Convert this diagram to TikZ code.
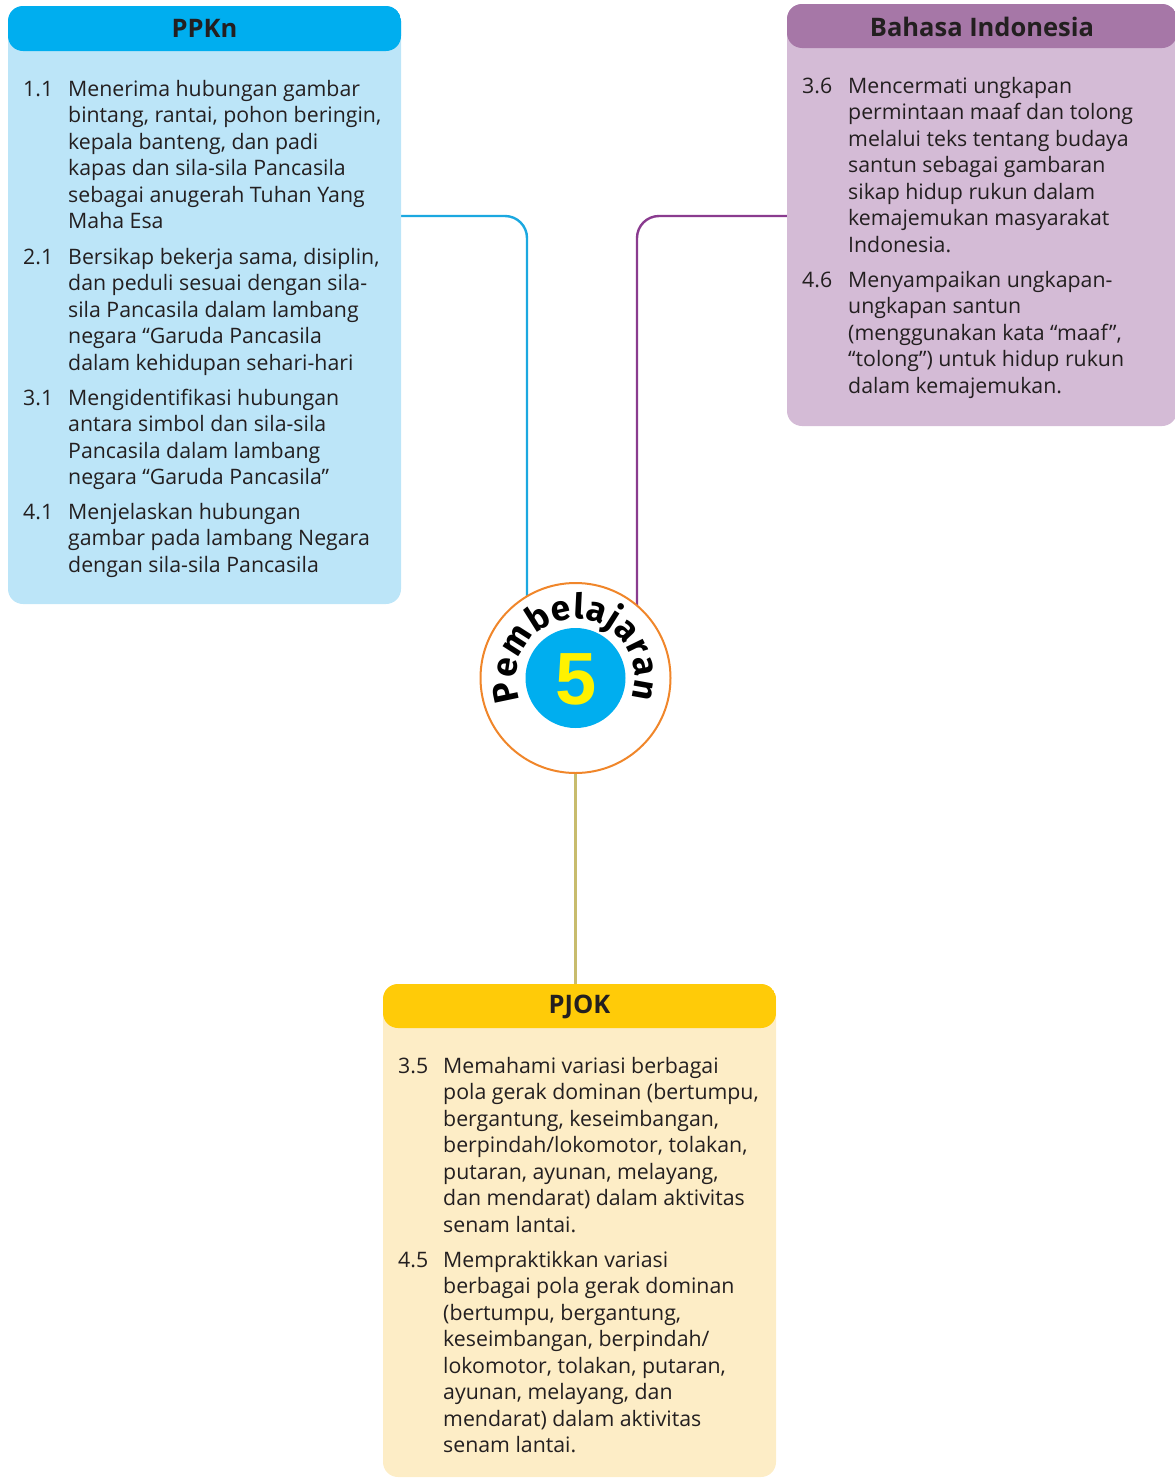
\documentclass[tikz,border=0pt]{standalone}
\usepackage{fontspec}
\setmainfont{Open Sans}
\newfontfamily\digitfont{Liberation Sans}
\newfontfamily\arcfont{Fira Sans}
\usetikzlibrary{decorations.text,backgrounds}
\definecolor{txt}{HTML}{231F20}
\definecolor{ppkhead}{HTML}{00AEEF}
\definecolor{ppkbody}{HTML}{BCE5F8}
\definecolor{bihead}{HTML}{A677A7}
\definecolor{bibody}{HTML}{D4BBD6}
\definecolor{pjhead}{HTML}{FFCB08}
\definecolor{pjbody}{HTML}{FDEDC6}
\definecolor{cyanline}{HTML}{1BA8E0}
\definecolor{purpline}{HTML}{8A3B8F}
\definecolor{khakiline}{HTML}{C8BC6D}
\definecolor{orng}{HTML}{F0862A}
\definecolor{yel}{HTML}{FFF200}
\begin{document}
\begin{tikzpicture}[x=1pt,y=-1pt,
  box/.style={rectangle, rounded corners=15pt, inner sep=0pt, draw=none},
  hdrtxt/.style={inner sep=0pt, text=txt, font=\fontsize{25.5}{30}\selectfont\bfseries},
  num/.style={anchor=north west, inner sep=0pt, text=txt, font=\fontsize{21.3}{26.5}\selectfont},
  itm/.style={anchor=north west, inner sep=0pt, align=left, text=txt, font=\fontsize{21.3}{26.5}\selectfont},
  conn/.style={line width=2.4pt, rounded corners=22pt}]
\useasboundingbox (0,0) rectangle (1175,1478);

% boxes
\node[box, fill=ppkbody, minimum width=393pt, minimum height=598pt,
  path picture={\fill[ppkhead] (path picture bounding box.north west) rectangle ([yshift=-45pt]path picture bounding box.north east);}]
  (ppkn) at (204.5,305) {};
\node[box, fill=bibody, minimum width=390pt, minimum height=422pt,
  path picture={\fill[bihead] (path picture bounding box.north west) rectangle ([yshift=-44pt]path picture bounding box.north east);}]
  (bi) at (982,215) {};
\node[box, fill=pjbody, minimum width=393pt, minimum height=493pt,
  path picture={\fill[pjhead] (path picture bounding box.north west) rectangle ([yshift=-44pt]path picture bounding box.north east);}]
  (pjok) at (579.5,1230.5) {};

% headers
\node[hdrtxt] (ppknh) at (204.5,28.5) {PPKn};
\node[hdrtxt] (bih) at (982,26.5) {Bahasa Indonesia};
\node[hdrtxt] (pjokh) at (579.5,1006.5) {PJOK};

% PPKn items
\node[num] (n11) at (23,77.45) {\strut 1.1};
\node[itm] (t11) at (68,77.45) {\strut Menerima hubungan gambar\\ bintang, rantai, pohon beringin,\\ kepala banteng, dan padi\\ kapas dan sila-sila Pancasila\\ sebagai anugerah Tuhan Yang\\ Maha Esa};
\node[num] (n21) at (23,245.45) {\strut 2.1};
\node[itm] (t21) at (68,245.45) {\strut Bersikap bekerja sama, disiplin,\\ dan peduli sesuai dengan sila-\\ sila Pancasila dalam lambang\\ negara “Garuda Pancasila\\ dalam kehidupan sehari-hari};
\node[num] (n31) at (23,386.45) {\strut 3.1};
\node[itm] (t31) at (68,386.45) {\strut Mengidentifikasi hubungan\\ antara simbol dan sila-sila\\ Pancasila dalam lambang\\ negara “Garuda Pancasila”};
\node[num] (n41) at (23,500.45) {\strut 4.1};
\node[itm] (t41) at (68,500.45) {\strut Menjelaskan hubungan\\ gambar pada lambang Negara\\ dengan sila-sila Pancasila};

% Bahasa items
\node[num] (n36) at (802,74.45) {\strut 3.6};
\node[itm] (t36) at (848,74.45) {\strut Mencermati ungkapan\\ permintaan maaf dan tolong\\ melalui teks tentang budaya\\ santun sebagai gambaran\\ sikap hidup rukun dalam\\ kemajemukan masyarakat\\ Indonesia.};
\node[num] (n46) at (802,268.45) {\strut 4.6};
\node[itm] (t46) at (848,268.45) {\strut Menyampaikan ungkapan-\\ ungkapan santun\\ (menggunakan kata “maaf”,\\ “tolong”) untuk hidup rukun\\ dalam kemajemukan.};

% PJOK items
\node[num] (n35) at (398,1054.45) {\strut 3.5};
\node[itm] (t35) at (443,1054.45) {\strut Memahami variasi berbagai\\ pola gerak dominan (bertumpu,\\ bergantung, keseimbangan,\\ berpindah/lokomotor, tolakan,\\ putaran, ayunan, melayang,\\ dan mendarat) dalam aktivitas\\ senam lantai.};
\node[num] (n45) at (398,1248.45) {\strut 4.5};
\node[itm] (t45) at (443,1248.45) {\strut Mempraktikkan variasi\\ berbagai pola gerak dominan\\ (bertumpu, bergantung,\\ keseimbangan, berpindah/\\ lokomotor, tolakan, putaran,\\ ayunan, melayang, dan\\ mendarat) dalam aktivitas\\ senam lantai.};

% central circle
\node[circle, draw=orng, line width=2pt, fill=white, minimum size=190pt, inner sep=0pt] (circ) at (575.5,678) {};
\node[circle, fill=ppkhead, minimum size=100pt, inner sep=0pt] (blue) at (575.5,678) {};
\node[inner sep=0pt, text=yel, font=\digitfont\bfseries\fontsize{74}{74}\selectfont] (five) at (575.7,679) {5};
\path[decorate, decoration={text along path,
   text={|\arcfont\bfseries\fontsize{35}{35}\selectfont|Pembelajaran},
   text align=fit to path}]
  (circ.center) ++(158:59) arc[start angle=158, end angle=380, radius=59];

% connectors
\coordinate (pk) at (527,216);
\coordinate (qk) at (637,216);
\begin{pgfonlayer}{background}
\draw[conn, cyanline] (ppkn.east |- pk) -- (pk) -- (pk |- circ.center);
\draw[conn, purpline] (bi.west |- qk) -- (qk) -- (qk |- circ.center);
\draw[conn, khakiline] (circ.south) -- (circ.south |- pjok.north);
\end{pgfonlayer}
\end{tikzpicture}
\end{document}
